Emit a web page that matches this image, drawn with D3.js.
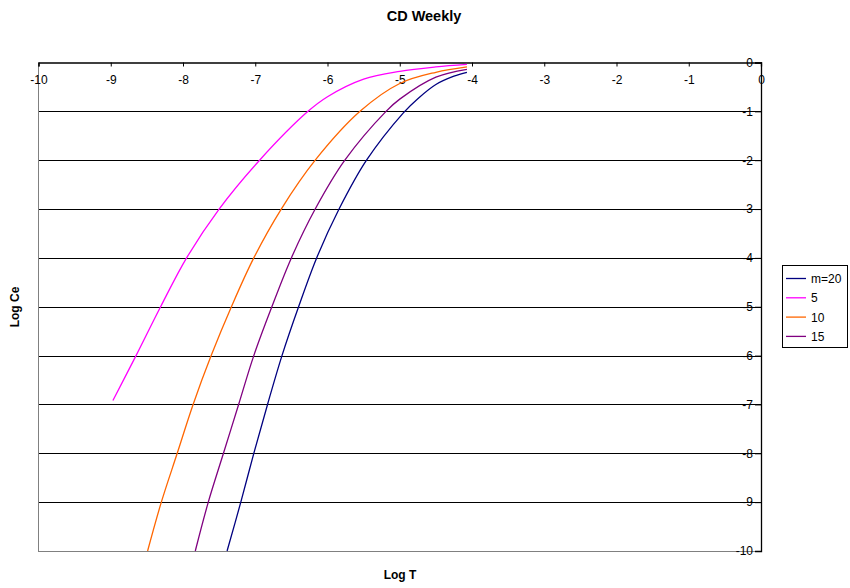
<!DOCTYPE html>
<html>
<head>
<meta charset="utf-8">
<title>CD Weekly</title>
<script src="https://d3js.org/d3.v7.min.js"></script>
<style>
    body { margin: 0; background: #fff; }
    text { font-family: Arial, "Liberation Sans", sans-serif; fill: #000; }
    .grid line { stroke: #000; stroke-width: 1; shape-rendering: crispEdges; }
    .series { fill: none; stroke-width: 1.3; }
</style>
</head>
<body>
<script>
// tick values
var xTicks = [-10, -9, -8, -7, -6, -5, -4, -3, -2, -1, 0];
var yTicks = [0, -1, -2, -3, -4, -5, -6, -7, -8, -9, -10];

// series: [Log T, Log Ce]
var seriesNames = ["m=20", "5", "10", "15"];
var seriesColors = ["#000080", "#FF00FF", "#FF6600", "#800080"];

var m20 = [[-7.39, -10], [-7.20, -9], [-7.02, -8], [-6.83, -7], [-6.63, -6], [-6.40, -5],
    [-6.15, -4], [-5.84, -3], [-5.46, -2], [-4.95, -1.03], [-4.75, -0.74], [-4.5, -0.45], [-4.25, -0.28], [-4.07, -0.2]];
var m5 = [[-8.97, -6.92], [-8.65, -6], [-8.31, -5], [-7.95, -4], [-7.50, -3], [-6.94, -2],
    [-6.27, -1], [-6.0, -0.70], [-5.5, -0.34], [-5.0, -0.18], [-4.5, -0.09], [-4.07, -0.04]];
var m10 = [[-8.49, -10], [-8.30, -9], [-8.08, -8], [-7.86, -7], [-7.61, -6], [-7.33, -5],
    [-7.02, -4], [-6.64, -3], [-6.17, -2], [-5.55, -1], [-5.0, -0.43], [-4.5, -0.20], [-4.07, -0.09]];
var m15 = [[-7.83, -10], [-7.65, -9], [-7.44, -8], [-7.23, -7], [-7.02, -6], [-6.77, -5],
    [-6.50, -4], [-6.17, -3], [-5.76, -2], [-5.19, -1], [-5.0, -0.75], [-4.5, -0.30], [-4.07, -0.14]];
var seriesData = [m20, m5, m10, m15];

var W = 850, H = 588;
var plot = { left: 38.5, right: 761, top: 62.5, bottom: 551 };

var svg = d3.select("body").append("svg").attr("width", W).attr("height", H);

var x = d3.scaleLinear().domain([-10, 0]).range([plot.left, plot.right]);
var y = d3.scaleLinear().domain([-10, 0]).range([plot.bottom, plot.top]);

// title
svg.append("text").attr("x", 424).attr("y", 21).attr("text-anchor", "middle")
    .style("font-size", "14.5px").style("font-weight", "bold").text("CD Weekly");

// horizontal gridlines
svg.append("g").attr("class", "grid").selectAll("line")
    .data(yTicks.filter(function (d) { return d !== 0 && d !== -10; }))
    .enter().append("line")
    .attr("x1", plot.left).attr("x2", plot.right)
    .attr("y1", function (d) { return Math.round(y(d)) + 0.5; })
    .attr("y2", function (d) { return Math.round(y(d)) + 0.5; });

// plot border (gray left & bottom)
svg.append("path")
    .attr("d", "M" + plot.left + "," + plot.top + "V" + (plot.bottom + 0.5) + "H" + plot.right)
    .attr("fill", "none").attr("stroke", "#808080").attr("stroke-width", 1.2)
    .style("shape-rendering", "crispEdges");

// x axis along y = 0 (top), ticks pointing down
var xAxis = d3.axisBottom(x).tickValues(xTicks).tickSize(4).tickPadding(9).tickFormat(d3.format("d"));
var gx = svg.append("g").attr("transform", "translate(0," + y(0) + ")").call(xAxis);
gx.select(".domain").attr("stroke", "#000").attr("stroke-width", 1.3);
gx.selectAll("text").style("font-size", "12px").attr("fill", "#000").text(function (d) { return String(d); });
gx.selectAll(".tick line").attr("stroke", "#000");

// y axis along x = 0 (right), ticks pointing left, labels left
var yAxis = d3.axisLeft(y).tickValues(yTicks).tickSize(6).tickPadding(2).tickFormat(d3.format("d"));
var gy = svg.append("g").attr("transform", "translate(" + x(0) + ",0)").call(yAxis);
gy.select(".domain").attr("stroke", "#000").attr("stroke-width", 1.3);
gy.selectAll("text").style("font-size", "12px").attr("fill", "#000").text(function (d) { return String(d); });
gy.selectAll(".tick line").attr("stroke", "#000");

// series lines
var line = d3.line()
    .x(function (d) { return x(d[0]); })
    .y(function (d) { return y(d[1]); })
    .curve(d3.curveCatmullRom.alpha(0.5));

svg.append("g").selectAll("path")
    .data(seriesData)
    .enter().append("path")
    .attr("class", "series")
    .attr("stroke", function (d, i) { return seriesColors[i]; })
    .attr("d", line);

// axis titles
svg.append("text").attr("x", 400).attr("y", 579).attr("text-anchor", "middle")
    .style("font-size", "12px").style("font-weight", "bold").text("Log T");
svg.append("text").attr("transform", "translate(19,307) rotate(-90)").attr("text-anchor", "middle")
    .style("font-size", "12px").style("font-weight", "bold").text("Log Ce");

// legend
var legend = svg.append("g").attr("transform", "translate(782,265)");
legend.append("rect").attr("x", 0.5).attr("y", 0.5).attr("width", 65).attr("height", 82)
    .attr("fill", "#fff").attr("stroke", "#000").attr("stroke-width", 1);
var item = legend.selectAll("g.item").data(seriesNames).enter().append("g")
    .attr("class", "item")
    .attr("transform", function (d, i) { return "translate(0," + (13.5 + i * 19.3) + ")"; });
item.append("line").attr("x1", 4).attr("x2", 24).attr("y1", 0).attr("y2", 0)
    .attr("stroke", function (d, i) { return seriesColors[i]; }).attr("stroke-width", 1.3);
item.append("text").attr("x", 29).attr("y", 4.5).style("font-size", "12px").text(function (d) { return d; });
</script>
</body>
</html>
